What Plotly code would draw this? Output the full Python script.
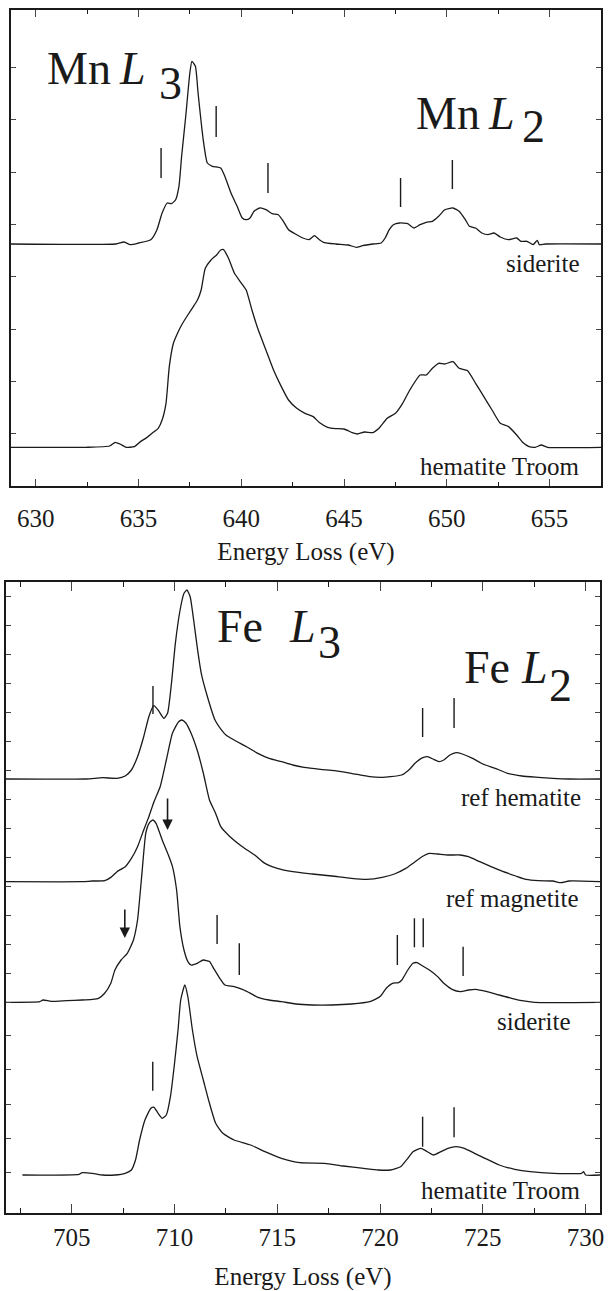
import plotly.graph_objects as go
import numpy as np

FONT = "Liberation Serif, Times New Roman, serif"
INK = "#1a1a1a"

# ---------------- Mn L2,3 edge (top panel) ----------------
mn_sid_e = [628.8, 633.9, 634.3, 634.6, 635.0, 635.6, 635.9, 636.15, 636.4, 636.6, 636.8, 636.97,
            637.1, 637.3, 637.5, 637.6, 637.77, 637.9, 638.15, 638.35, 638.6, 639.0, 639.2, 639.5,
            639.8, 640.05, 640.24, 640.43, 640.62, 640.9, 641.2, 641.5, 641.8, 642.05, 642.3, 642.7,
            643.0, 643.3, 643.56, 643.8, 644.0, 644.6, 645.2, 645.6, 645.9, 646.4, 646.8, 647.0,
            647.2, 647.4, 647.7, 648.1, 648.4, 648.7, 649.0, 649.3, 649.6, 649.9, 650.3, 650.6,
            650.9, 651.1, 651.4, 651.7, 652.0, 652.3, 652.6, 653.0, 653.4, 653.6, 653.9, 654.2,
            654.4, 654.5, 654.8, 657.5]
mn_sid_i = [0, 0, 2, -0.7, 1, 4.3, 14.3, 31, 41, 40.3, 44, 57.7,
            87.7, 127.7, 171, 182.7, 177.7, 151, 104.3, 81, 77.7, 76, 67.7, 51,
            37.7, 26, 24.3, 26, 32.7, 36, 34.3, 30.3, 29.3, 22.7, 14.3, 9.3,
            6, 4.3, 8.3, 4.3, 1.7, 0, -1, -3.3, -1.7, 0, 1, 6,
            14.3, 19.3, 21, 20.3, 16, 19.3, 21.7, 22.7, 27.7, 34.3, 36, 32.7,
            24.3, 17.7, 16, 11, 9.3, 11, 7, 4.3, 6, 2.7, 2.7, -0.7,
            3.7, -0.7, 0, 0]

mn_hem_e = [628.8, 632.45, 633.6, 633.87, 634.1, 634.4, 634.8, 635.1, 635.4, 635.7, 635.96, 636.15,
            636.34, 636.5, 636.7, 636.9, 637.1, 637.4, 637.67, 637.87, 638.05, 638.25, 638.53, 638.8,
            639.0, 639.14, 639.38, 639.67, 639.95, 640.24, 640.52, 640.8, 641.2, 641.57, 641.95, 642.3,
            642.7, 643.1, 643.5, 643.8, 644.2, 644.6, 645.0, 645.4, 645.65, 646.0, 646.4, 646.7,
            647.1, 647.5, 647.85, 648.2, 648.7, 649.0, 649.3, 649.6, 649.9, 650.3, 650.6, 651.0,
            651.4, 651.8, 652.2, 652.6, 653.0, 653.4, 653.7, 654.0, 654.3, 654.6, 654.9, 657.5]
mn_hem_i = [0, 0, 1.3, 5, 3.3, 0, 0.7, 5.7, 9.7, 14.7, 19, 27.3,
            44, 80.7, 104, 114, 122.3, 132.3, 140.7, 147.3, 157.3, 179, 187.3, 192.3,
            197.3, 197.7, 189, 174, 165.7, 157.3, 137.3, 119, 97.3, 77.3, 60.7, 47.3,
            39, 34, 30.7, 24.7, 20, 18.7, 18.3, 14.7, 13.3, 15.3, 14.7, 19,
            29, 34, 44, 57.3, 72.3, 72.3, 79, 84, 83.3, 85.7, 79, 76.7,
            64, 50.7, 37.3, 24, 20.7, 12.3, 4.7, 0.7, 0, 2.3, 0, 0]

mn_names = ["siderite", "hematite Troom"]
mn_offsets = [242, 38.7]
mn_label_y = [223, 19.3]

# feature markers (energy, bottom, top) on Mn siderite spectrum
mn_mark_e = [636.1, 638.78, 641.3, 647.75, 650.27]
mn_mark_lo = [308, 349, 293, 279, 297]
mn_mark_hi = [338, 380, 323, 308, 326]

mn_yticks = [52.3, 104.6, 156.9, 209.2, 261.5, 313.8, 366.1, 418.4]

# ---------------- Fe L2,3 edge (bottom panel) ----------------
fe_refhem_e = [701.8, 705.7, 706.5, 707.2, 707.6, 707.9, 708.2, 708.5, 708.75, 708.99, 709.2, 709.48,
               709.66, 709.85, 710.04, 710.27, 710.46, 710.6, 710.76, 710.93, 711.1, 711.3, 711.6, 711.97,
               712.35, 712.5, 712.9, 713.5, 714.05, 714.6, 715.2, 715.75, 716.3, 717.1, 717.8, 718.6,
               719.5, 720.1, 720.5, 721.05, 721.4, 721.7, 722.0, 722.3, 722.6, 722.86, 723.1, 723.4,
               723.7, 724.0, 724.5, 725.0, 725.6, 726.2, 726.9, 727.7, 728.4, 729.2, 730.7]
fe_refhem_i = [0, 0, 1.3, 0.7, 3, 9, 22.3, 42.3, 62.3, 73.3, 69, 60.7,
               65.7, 95.7, 135.7, 169, 185.7, 189, 182.3, 159, 132.3, 105.7, 82.3, 59,
               47.3, 44, 39, 32.3, 25.7, 20.7, 17.3, 14, 11.7, 9.7, 8.3, 5.7,
               2.3, 1.7, 2.3, 4, 9, 15.7, 20.7, 22.3, 19.7, 17.3, 19, 24,
               26.3, 25, 20.7, 15, 10.7, 5.7, 3, 1.7, 0.7, 0, 0]

fe_refmag_e = [701.8, 705.5, 706.0, 706.6, 706.9, 707.2, 707.6, 707.9, 708.2, 708.5, 708.75, 709.0,
               709.3, 709.6, 709.9, 710.2, 710.36, 710.55, 710.8, 711.1, 711.4, 711.7, 712.0, 712.25,
               712.7, 713.3, 713.9, 714.4, 715.0, 715.75, 716.7, 717.65, 718.6, 719.35, 720.1, 720.7,
               721.25, 721.7, 722.1, 722.4, 722.8, 723.3, 723.9, 724.3, 724.85, 725.4, 726.0, 726.6,
               727.1, 727.7, 728.4, 728.8, 729.2, 730.7]
fe_refmag_i = [0, 0, 0.7, 1, 4.3, 10, 15, 23.3, 35, 51.7, 65, 80,
               95, 121.7, 148.7, 160, 161.7, 158.7, 148.7, 131.7, 108.7, 81.7, 68.3, 55,
               45, 35, 26.7, 18.3, 13.3, 10, 7.7, 5.7, 3.3, 2.3, 4.3, 7.7,
               13.3, 20, 25.7, 28.3, 27.7, 26.7, 26.7, 25, 20, 15, 10, 5.7,
               2.3, 1, 0.7, -1, 0.7, 0]

fe_sid_e = [701.8, 703.45, 703.6, 704.0, 704.75, 705.5, 706.0, 706.3, 706.6, 706.9, 707.1, 707.4,
            707.7, 708.0, 708.2, 708.4, 708.6, 708.76, 708.94, 709.1, 709.4, 709.7, 709.9, 710.1,
            710.26, 710.46, 710.65, 710.8, 711.1, 711.4, 711.7, 711.9, 712.2, 712.45, 712.9, 713.3,
            713.7, 714.05, 714.6, 715.2, 715.9, 716.7, 717.65, 718.6, 719.5, 720.0, 720.3, 720.6,
            720.9, 721.06, 721.35, 721.6, 721.8, 722.0, 722.4, 722.8, 723.1, 723.5, 723.9, 724.3,
            724.65, 725.2, 725.8, 726.4, 726.9, 727.5, 730.7]
fe_sid_i = [0, 0.7, 2.3, 1, 1.7, 2.3, 3, 4, 9, 19, 32.3, 42.3,
            49, 62.3, 82.3, 125.7, 169, 179, 182.3, 179, 162.3, 147.3, 135.7, 112.3,
            75.7, 52.3, 40.7, 37.3, 39, 42.3, 40.7, 34, 24, 17.3, 15.7, 13,
            9, 5, 2.3, 0.7, -1.7, -2.7, -2.7, -1.7, 0.7, 5.7, 14, 19,
            19.7, 22.3, 32.3, 39, 39.7, 37.3, 32.3, 25.7, 19, 13, 10.7, 12.3,
            13, 10.7, 7.3, 4, 1.7, 0, 0]

fe_hem_e = [702.6, 705.35, 705.5, 706.0, 706.5, 707.1, 707.6, 707.9, 708.1, 708.3, 708.56, 708.85,
            709.0, 709.2, 709.4, 709.6, 709.8, 710.0, 710.17, 710.3, 710.5, 710.65, 710.87,
            711.1, 711.4, 711.7, 712.0, 712.35, 712.9, 713.7, 714.4, 715.2, 716.1, 717.3, 718.2,
            719.2, 719.9, 720.5, 721.0, 721.35, 721.6, 722.0, 722.3, 722.6, 722.96, 723.3, 723.7,
            724.1, 724.6, 725.1, 725.8, 726.55, 727.3, 728.45, 729.8, 729.9, 730.0, 730.7]
fe_hem_i = [0, 0.7, 2.3, 1.7, 0, 0, 1.7, 5, 15, 35, 55, 66.7,
            67.7, 61.7, 56.7, 60, 78.3, 111.7, 145, 175, 190, 178, 145,
            118.3, 95, 71.7, 51.7, 41.7, 35, 30, 23.3, 16.7, 12.3, 11.7, 9,
            6.7, 5, 5, 8.3, 16.7, 23.3, 26.7, 23.3, 20, 23.3, 26.7, 28.3,
            26.7, 21.7, 16.7, 10, 5.7, 3.3, 1.7, 1.7, 3.3, 0, 0]

fe_names = ["ref hematite", "ref magnetite", "siderite", "hematite Troom"]
fe_offsets = [434, 331.3, 210.7, 38]
fe_label_y = [415, 314.7, 191.3, 23]
fe_label_x = [729.87, 729.77, 729.38, 729.87]

# feature markers (energy, bottom, top)
fe_mark_e = [708.95, 722.07, 723.6,
             712.07, 713.15, 720.84, 721.67, 722.1, 724.04,
             708.94, 722.07, 723.6]
fe_mark_lo = [499, 476, 485,
              269, 238, 248, 265.7, 265.7, 237,
              122.3, 66.3, 75.7]
fe_mark_hi = [527, 505, 515,
              298, 269.7, 278, 294.7, 294.7, 266.3,
              151.3, 96.3, 105.7]
# arrows (energy, tail, tip)
fe_arrow_e = [709.66, 707.58]
fe_arrow_tail = [416, 305]
fe_arrow_tip = [383, 275]

fe_yticks = [40.3, 74.7, 109, 143.7, 178, 210.7, 239.7, 268.6, 297.6, 326.6, 355.5, 384.5,
             413.5, 442.5, 471.4, 500.4, 529.3, 558.3, 587.3, 616.3]

fig = go.Figure()

def add_spec(x, y, off, xa, ya):
    fig.add_trace(go.Scatter(x=x, y=np.asarray(y) + off, mode="lines", xaxis=xa, yaxis=ya,
                             line=dict(color=INK, width=1.3, shape="spline", smoothing=0.5),
                             showlegend=False, hoverinfo="skip"))

add_spec(mn_sid_e, mn_sid_i, mn_offsets[0], "x", "y")
add_spec(mn_hem_e, mn_hem_i, mn_offsets[1], "x", "y")
add_spec(fe_refhem_e, fe_refhem_i, fe_offsets[0], "x2", "y2")
add_spec(fe_refmag_e, fe_refmag_i, fe_offsets[1], "x2", "y2")
add_spec(fe_sid_e, fe_sid_i, fe_offsets[2], "x2", "y2")
add_spec(fe_hem_e, fe_hem_i, fe_offsets[3], "x2", "y2")

def add_marks(es, lo, hi, xa, ya):
    xs, ys = [], []
    for e, a, b in zip(es, lo, hi):
        xs += [e, e, None]
        ys += [a, b, None]
    fig.add_trace(go.Scatter(x=xs, y=ys, mode="lines", xaxis=xa, yaxis=ya,
                             line=dict(color=INK, width=1.4), showlegend=False, hoverinfo="skip"))

add_marks(mn_mark_e, mn_mark_lo, mn_mark_hi, "x", "y")
add_marks(fe_mark_e, fe_mark_lo, fe_mark_hi, "x2", "y2")

ann = []
for name, ly in zip(mn_names, mn_label_y):
    ann.append(dict(x=656.58, y=ly, xref="x", yref="y", text=name, showarrow=False,
                    xanchor="right", yanchor="middle", font=dict(family=FONT, size=25, color=INK)))
for name, lx, ly in zip(fe_names, fe_label_x, fe_label_y):
    ann.append(dict(x=lx, y=ly, xref="x2", yref="y2", text=name, showarrow=False,
                    xanchor="right", yanchor="middle", font=dict(family=FONT, size=25, color=INK)))

for e, t0, t1 in zip(fe_arrow_e, fe_arrow_tail, fe_arrow_tip):
    ann.append(dict(x=e, y=t1, ax=e, ay=t0, xref="x2", yref="y2", axref="x2", ayref="y2",
                    text="", showarrow=True, arrowhead=2, arrowsize=1.3, arrowwidth=1.6,
                    arrowcolor=INK))

# big edge labels: (text, x, y, xref, yref)
edge_parts = [
    ("Mn", 630.45, 417, "x", "y"), ("<i>L</i>", 633.96, 417, "x", "y"), ("3", 635.9, 402, "x", "y"),
    ("Mn", 648.4, 372, "x", "y"), ("<i>L</i>", 651.9, 372, "x", "y"), ("2", 653.54, 359, "x", "y"),
    ("Fe", 711.98, 586, "x2", "y2"), ("<i>L</i>", 715.47, 586, "x2", "y2"), ("3", 716.88, 570, "x2", "y2"),
    ("Fe", 724.0, 545, "x2", "y2"), ("<i>L</i>", 726.76, 545, "x2", "y2"), ("2", 728.12, 527, "x2", "y2"),
]
for txt, x, y, xr, yr in edge_parts:
    ann.append(dict(x=x, y=y, xref=xr, yref=yr, text=txt, showarrow=False, xanchor="left",
                    yanchor="middle", font=dict(family=FONT, size=46, color=INK)))

axis_common = dict(showline=True, linecolor=INK, linewidth=1.6, mirror="ticks", ticks="inside",
                   showgrid=False, zeroline=False, automargin=False,
                   tickfont=dict(family=FONT, size=25, color=INK))

fig.update_layout(
    width=612, height=1291, margin=dict(l=0, r=0, t=0, b=0),
    paper_bgcolor="white", plot_bgcolor="white", showlegend=False,
    annotations=ann,
    xaxis=dict(domain=[11/612, 601/612], range=[628.8, 657.5], tick0=630, dtick=5, ticklen=7,
               tickwidth=1.4, ticklabelstandoff=9,
               minor=dict(dtick=2.5, ticklen=4, ticks="inside", tickcolor=INK),
               title=dict(text="Energy Loss (eV)", font=dict(family=FONT, size=25, color=INK), standoff=12),
               anchor="y", **axis_common),
    yaxis=dict(domain=[1 - 486/1291, 1 - 10/1291], range=[0, 476], tickvals=mn_yticks,
               showticklabels=False, ticklen=5, tickwidth=1.3, anchor="x", **axis_common),
    xaxis2=dict(domain=[6/612, 600/612], range=[701.8, 730.7], tick0=705, dtick=5, ticklen=9,
                tickwidth=1.4, ticklabelstandoff=1,
                minor=dict(dtick=2.5, ticklen=5, ticks="inside", tickcolor=INK),
                title=dict(text="Energy Loss (eV)", font=dict(family=FONT, size=25, color=INK), standoff=18),
                anchor="y2", **axis_common),
    yaxis2=dict(domain=[1 - 1213/1291, 1 - 582/1291], range=[0, 631], tickvals=fe_yticks,
                showticklabels=False, ticklen=5, tickwidth=1.3, anchor="x2", **axis_common),
)

fig.write_html("out.html")
